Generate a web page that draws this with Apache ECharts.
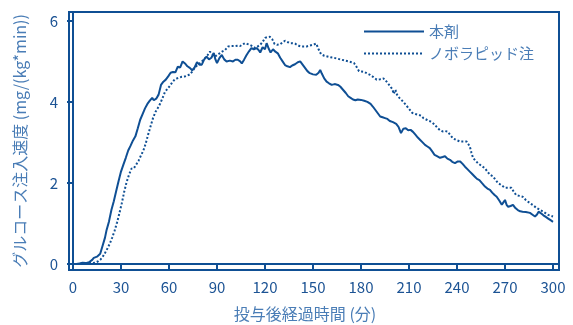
<!DOCTYPE html>
<html>
<head>
<meta charset="utf-8">
<script src="https://cdn.jsdelivr.net/npm/echarts@6/dist/echarts.min.js"></script>
<style>
html,body{margin:0;padding:0;background:#fff;}
#chart{width:573px;height:325px;}
</style>
</head>
<body>
<div id="chart"></div>
<script>
var xTicks = [0, 30, 60, 90, 120, 150, 180, 210, 240, 270, 300];
var yTicks = [0, 2, 4, 6];
var seriesNames = ['本剤', 'ノボラピッド注'];

// 本剤 (solid) : [minutes, mg/(kg*min)]
var honzaiData = [
[0,0.00],[2,0.00],[4,0.01],[6,0.03],[8,0.02],[10,0.04],[12,0.10],[13,0.15],[15,0.18],[17,0.25],
[18.5,0.45],[20,0.65],[21,0.84],[22.5,1.05],[24,1.33],[25.5,1.55],[27,1.80],[28.5,2.05],[30,2.28],[31.5,2.45],
[33,2.62],[34.5,2.80],[36,2.92],[37.5,3.05],[39,3.15],[40.5,3.35],[42,3.56],[43.5,3.70],[45,3.84],[46.5,3.95],
[48,4.03],[49.5,4.10],[50.5,4.04],[52,4.08],[53.5,4.18],[55,4.42],[56.5,4.50],[58,4.55],[59.5,4.63],[61,4.72],
[62.5,4.74],[64,4.73],[65.5,4.87],[67,4.85],[68.5,5.00],[70,4.95],[71.5,4.88],[73,4.84],[74.5,4.78],[76,4.85],
[77.5,4.98],[79,4.92],[80.5,4.92],[82,5.05],[83.5,5.12],[85,5.05],[86.5,5.09],[88,5.21],[89,5.05],[90,4.96],
[91.5,5.08],[93,5.16],[94.5,5.05],[96,5.00],[98,5.02],[100,5.00],[101.5,5.04],[103,5.04],[104.5,5.00],[105.5,4.95],
[107,5.05],[108.5,5.16],[110,5.25],[111.5,5.33],[113,5.30],[114.8,5.33],[116,5.28],[117,5.22],[118.5,5.35],[120,5.30],
[121,5.45],[122.5,5.30],[123.5,5.22],[125,5.30],[126.5,5.24],[128,5.20],[129.5,5.09],[131,5.00],[132.5,4.91],[134,4.88],
[135.6,4.86],[137,4.90],[138.75,4.93],[140.5,4.98],[142,5.00],[143.5,4.92],[145,4.84],[146.5,4.76],[148,4.71],[150,4.68],
[152,4.67],[153.5,4.72],[154.5,4.79],[155.5,4.70],[157,4.58],[158.5,4.50],[160,4.46],[161.7,4.42],[163.5,4.44],[165.6,4.42],
[167,4.38],[168.75,4.30],[170.5,4.22],[172,4.14],[173.5,4.10],[175,4.06],[176.5,4.04],[178,4.06],[180,4.05],[182,4.03],
[184,4.00],[186,3.95],[187.5,3.88],[189,3.80],[190.5,3.72],[192,3.64],[193.5,3.62],[195,3.60],[196.5,3.58],[198,3.53],
[200,3.50],[202,3.46],[203.5,3.38],[205,3.23],[206.5,3.34],[208,3.35],[209.5,3.30],[211,3.31],[212.5,3.26],[214,3.19],
[215.5,3.12],[217,3.06],[218.5,3.00],[220,2.94],[221.5,2.90],[223,2.86],[224.5,2.78],[226,2.69],[227.5,2.66],[229.4,2.62],
[231,2.64],[232.5,2.66],[234,2.60],[235.6,2.57],[237,2.52],[238.75,2.49],[240.5,2.53],[242,2.53],[243.5,2.47],[245,2.40],
[246.5,2.34],[248,2.28],[249.5,2.22],[251,2.16],[252.5,2.10],[254,2.07],[255.5,2.00],[257.5,1.91],[259,1.86],[260.6,1.83],
[262,1.76],[263.5,1.70],[264.8,1.66],[266.5,1.56],[268,1.46],[269,1.52],[270,1.58],[271,1.46],[272,1.41],[273.5,1.43],
[275,1.46],[276.5,1.38],[278,1.33],[279.5,1.30],[281,1.29],[283,1.28],[285.6,1.26],[287,1.22],[288.75,1.17],[290,1.22],
[291,1.29],[292.5,1.25],[294,1.20],[295.5,1.16],[297,1.12],[298.5,1.08],[300,1.04]
];

// ノボラピッド注 (dotted)
var novorapidData = [
[0,0.00],[3,0.00],[6,0.01],[9,0.02],[12,0.02],[14,0.03],[15.5,0.06],[17,0.10],[18.5,0.17],[20,0.27],
[21.5,0.38],[23,0.50],[24.5,0.65],[26,0.82],[27.5,1.02],[29,1.25],[30.5,1.50],[32,1.78],[33.5,2.02],[35,2.20],
[36.5,2.35],[38,2.36],[39.5,2.45],[41,2.55],[42.5,2.68],[44,2.80],[45.5,2.98],[47,3.20],[48.5,3.40],[50,3.60],
[51.5,3.75],[53,3.85],[54.5,3.96],[56,4.10],[57.5,4.25],[59,4.32],[60.6,4.40],[62,4.48],[63.5,4.55],[65,4.58],
[66.5,4.60],[68,4.62],[70,4.63],[71.5,4.65],[73,4.68],[74.5,4.75],[76,4.84],[77.5,4.90],[79.4,4.96],[81,5.02],
[82.5,5.08],[84,5.15],[85.6,5.24],[87,5.18],[88.75,5.12],[90.5,5.17],[92,5.21],[93.5,5.25],[95,5.28],[97,5.37],
[99,5.38],[101,5.38],[103,5.39],[104.5,5.38],[106,5.42],[107.5,5.45],[109,5.43],[110.6,5.41],[112,5.38],[114,5.33],
[115.5,5.37],[117,5.41],[118.5,5.48],[120,5.58],[121.5,5.60],[123,5.61],[124.5,5.55],[126,5.43],[127.5,5.41],[129.4,5.42],
[131,5.47],[132.5,5.51],[134,5.48],[135.6,5.45],[137,5.45],[138.75,5.44],[140.5,5.40],[142,5.37],[144,5.37],[146,5.37],
[148,5.39],[150,5.41],[151,5.45],[152,5.44],[153.5,5.30],[155,5.18],[157,5.14],[159,5.12],[161,5.10],[163,5.09],
[165,5.07],[167,5.05],[168,5.04],[170,5.02],[172,5.00],[174,4.98],[175.6,4.96],[177,4.88],[178.75,4.76],[180.5,4.75],
[182,4.74],[184,4.70],[185.6,4.67],[187.5,4.62],[189.8,4.55],[192,4.56],[194,4.58],[196,4.50],[198,4.40],[199.5,4.32],
[200.5,4.20],[201.5,4.30],[202.5,4.18],[204,4.10],[206,4.02],[208,3.93],[210,3.83],[212,3.73],[214,3.70],[216,3.68],
[217.5,3.66],[219,3.60],[221,3.56],[222.5,3.53],[224,3.51],[226,3.44],[228,3.35],[229.5,3.30],[231,3.27],[232.5,3.28],
[234,3.27],[235.5,3.20],[237.5,3.10],[239.5,3.06],[242,3.02],[244,3.02],[246,3.02],[247,2.96],[248,2.90],[249,2.75],
[250,2.62],[251.5,2.55],[253,2.49],[255,2.43],[257.5,2.36],[259,2.28],[260.6,2.20],[262.5,2.16],[264,2.08],[265.6,2.00],
[267.5,1.95],[270,1.88],[272,1.88],[274,1.88],[275.5,1.78],[277,1.70],[279,1.68],[281,1.66],[283,1.58],[285.6,1.50],
[287.5,1.45],[289.8,1.38],[292,1.33],[294,1.29],[295.5,1.25],[297,1.21],[298.5,1.19],[300,1.17]
];

var mainColor = '#0f4f94';
var labelColor = '#1c5394';
var lightColor = '#4a7db6';
var fontFam = '"Noto Sans CJK JP", "Noto Sans", sans-serif';

var chart = echarts.init(document.getElementById('chart'), null, {renderer: 'canvas'});
chart.setOption({
  animation: false,
  backgroundColor: '#ffffff',
  grid: {
    left: 69, right: 14, top: 12, bottom: 55,
    outerBoundsMode: 'none', containLabel: false,
    show: true, borderColor: mainColor, borderWidth: 2, backgroundColor: 'transparent'
  },
  legend: {
    orient: 'vertical',
    left: 358, top: 19,
    itemWidth: 60, itemHeight: 10, itemGap: 7,
    itemStyle: {opacity: 0},
    textStyle: {color: lightColor, fontSize: 15, fontFamily: fontFam},
    data: seriesNames
  },
  xAxis: {
    type: 'value',
    min: -2.5, max: 303.75,
    name: '投与後経過時間 (分)',
    nameLocation: 'middle',
    nameGap: 36,
    nameTextStyle: {color: lightColor, fontSize: 16, fontFamily: fontFam, padding: [0, 18, 0, 0]},
    axisLine: {show: true, lineStyle: {color: mainColor, width: 2}},
    axisTick: {show: true, length: 6, customValues: xTicks, lineStyle: {color: mainColor, width: 2}},
    axisLabel: {customValues: xTicks, margin: 10, color: labelColor, fontSize: 15, fontFamily: fontFam},
    splitLine: {show: false}
  },
  yAxis: {
    type: 'value',
    min: -0.15, max: 6.22,
    name: 'グルコース注入速度 (mg/(kg*min))',
    nameLocation: 'middle',
    nameGap: 41,
    nameTextStyle: {color: lightColor, fontSize: 16, fontFamily: fontFam},
    axisLine: {show: true, lineStyle: {color: mainColor, width: 2}},
    axisTick: {show: true, length: 6, customValues: yTicks, lineStyle: {color: mainColor, width: 2}},
    axisLabel: {customValues: yTicks, margin: 11, color: labelColor, fontSize: 15, fontFamily: fontFam},
    splitLine: {show: false}
  },
  series: [
    {
      name: seriesNames[0], type: 'line', data: honzaiData,
      symbol: 'none', showSymbol: false,
      lineStyle: {color: mainColor, width: 2},
      itemStyle: {color: mainColor}
    },
    {
      name: seriesNames[1], type: 'line', data: novorapidData,
      symbol: 'none', showSymbol: false,
      lineStyle: {color: mainColor, width: 2, type: [2, 2]},
      itemStyle: {color: mainColor}
    }
  ]
});
</script>
</body>
</html>
